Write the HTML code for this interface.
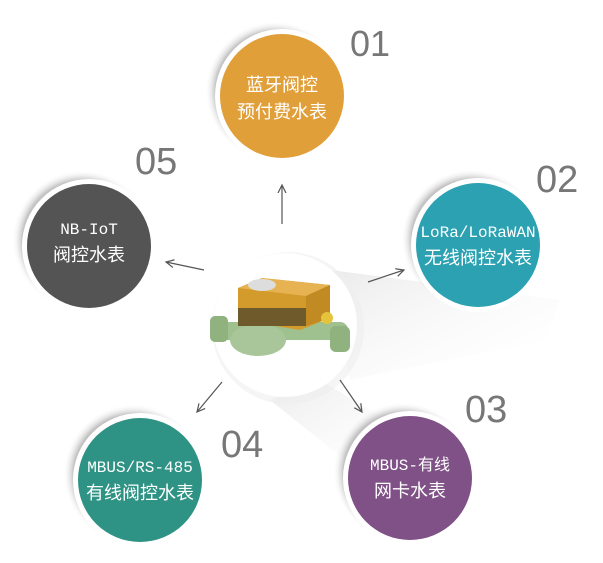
<!DOCTYPE html>
<html><head><meta charset="utf-8"><style>
html,body{margin:0;padding:0;background:#fff;}
svg{display:block;}
text{font-family:"Liberation Sans","Noto Sans CJK SC",sans-serif;}
.m{font-family:"Liberation Mono","Noto Sans CJK SC",monospace;}
</style></head><body>
<svg width="603" height="563" viewBox="0 0 603 563" xmlns="http://www.w3.org/2000/svg">
<defs>
<radialGradient id="sh" cx="50%" cy="50%" r="50%">
<stop offset="85%" stop-color="#aaa" stop-opacity="0.7"/>
<stop offset="100%" stop-color="#fff" stop-opacity="0"/>
</radialGradient>
<linearGradient id="beam" x1="0" y1="0" x2="1" y2="1">
<stop offset="0" stop-color="#e2e2e2"/><stop offset="1" stop-color="#fff" stop-opacity="0"/>
</linearGradient>
<marker id="ah" markerWidth="10" markerHeight="10" refX="8" refY="5" orient="auto" markerUnits="userSpaceOnUse">
<path d="M0,1 L8,5 L0,9" fill="none" stroke="#555" stroke-width="1.2"/>
</marker>
</defs>
<polygon points="330,270 560,300 545,340 350,380" fill="url(#beam)" opacity="0.7"/>
<polygon points="320,380 420,440 370,480 270,400" fill="url(#beam)" opacity="0.7"/>
<circle cx="288" cy="328" r="76" fill="#eee" opacity="0.6"/>
<circle cx="285" cy="325" r="72" fill="#fff"/>
<g>
<rect x="213" y="322" width="135" height="18" rx="8" fill="#9fc08f"/>
<rect x="210" y="316" width="18" height="26" rx="5" fill="#8fb27f"/>
<rect x="330" y="326" width="20" height="26" rx="6" fill="#8fb27f"/>
<ellipse cx="258" cy="340" rx="28" ry="16" fill="#a8c69a"/>
<polygon points="238,288 262,278 330,285 330,318 300,330 238,320" fill="#d39b2c"/>
<polygon points="238,288 262,278 330,285 306,296" fill="#e7b352"/>
<polygon points="306,296 330,285 330,318 306,326" fill="#c18a22"/>
<rect x="238" y="308" width="68" height="18" fill="#6e5a2a"/>
<ellipse cx="262" cy="285" rx="14" ry="6" fill="#ddd"/>
<circle cx="327" cy="318" r="6" fill="#e5c33b"/>
</g>
<g stroke="#555" stroke-width="1.2" fill="none" marker-end="url(#ah)">
<line x1="282" y1="224" x2="282" y2="185"/>
<line x1="204" y1="270" x2="166" y2="262"/>
<line x1="368" y1="282" x2="404" y2="270"/>
<line x1="222" y1="382" x2="197" y2="412"/>
<line x1="340" y1="380" x2="362" y2="412"/>
</g>
<g>
<circle cx="275" cy="91" r="70" fill="url(#sh)"/>
<circle cx="282" cy="96" r="67" fill="#fff"/>
<circle cx="282" cy="96" r="62" fill="#e19f3a"/>
<circle cx="82" cy="240" r="70" fill="url(#sh)"/>
<circle cx="89" cy="246" r="67" fill="#fff"/>
<circle cx="89" cy="246" r="62" fill="#545454"/>
<circle cx="471" cy="239" r="70" fill="url(#sh)"/>
<circle cx="478" cy="245" r="67" fill="#fff"/>
<circle cx="478" cy="245" r="62" fill="#2ba1b2"/>
<circle cx="133" cy="474" r="70" fill="url(#sh)"/>
<circle cx="140" cy="480" r="67" fill="#fff"/>
<circle cx="140" cy="480" r="62" fill="#2e9384"/>
<circle cx="403" cy="472" r="70" fill="url(#sh)"/>
<circle cx="410" cy="478" r="67" fill="#fff"/>
<circle cx="410" cy="478" r="62" fill="#7f5186"/>
</g>
<g fill="#fff" font-size="18" text-anchor="middle">
<text x="282" y="91">蓝牙阀控</text>
<text x="282" y="118">预付费水表</text>
<text class="m" x="89" y="234" font-size="16">NB-IoT</text>
<text x="89" y="261">阀控水表</text>
<text class="m" x="478" y="237" font-size="16">LoRa/LoRaWAN</text>
<text x="478" y="264">无线阀控水表</text>
<text class="m" x="140" y="472" font-size="16">MBUS/RS-485</text>
<text x="140" y="499">有线阀控水表</text>
<text class="m" x="410" y="470" font-size="16">MBUS-有线</text>
<text x="410" y="497">网卡水表</text>
</g>
<g fill="#777" font-size="38">
<text x="350" y="56" font-size="36">01</text>
<text x="536" y="192">02</text>
<text x="465" y="422">03</text>
<text x="221" y="457">04</text>
<text x="135" y="174">05</text>
</g>
</svg>
</body></html>
